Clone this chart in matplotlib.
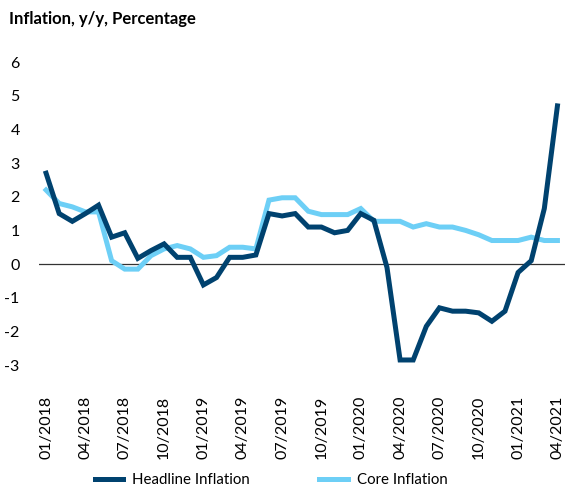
import numpy as np
import matplotlib
matplotlib.use('Agg')
import matplotlib.pyplot as plt

plt.rcParams['font.family'] = ['Lato', 'DejaVu Sans']

# data (monthly, 01/2018 .. 04/2021)
months = [f'{m:02d}/{y}' for y in range(2018, 2022) for m in range(1, 13)][:40]
headline = [2.7, 1.5, 1.27, 1.5, 1.75, 0.8, 0.93, 0.17, 0.4, 0.6,
            0.2, 0.2, -0.62, -0.4, 0.2, 0.2, 0.27, 1.5, 1.43, 1.5,
            1.1, 1.1, 0.93, 1.0, 1.5, 1.3, -0.1, -2.85, -2.85, -1.85,
            -1.3, -1.4, -1.4, -1.45, -1.7, -1.4, -0.25, 0.1, 1.65, 4.7]
core = [2.2, 1.8, 1.7, 1.55, 1.55, 0.1, -0.15, -0.15, 0.25, 0.45,
        0.55, 0.45, 0.2, 0.25, 0.5, 0.5, 0.45, 1.9, 1.97, 1.97,
        1.57, 1.47, 1.47, 1.47, 1.65, 1.27, 1.27, 1.27, 1.1, 1.2,
        1.1, 1.1, 1.0, 0.87, 0.7, 0.7, 0.7, 0.8, 0.7, 0.7]
yticks = [-3, -2, -1, 0, 1, 2, 3, 4, 5, 6]

c_head = '#00426f'
c_core = '#6dcff6'

x = np.arange(len(months))

fig = plt.figure(figsize=(5.67, 4.91), dpi=100)
ax = fig.add_axes([0.069, 0.236, 0.928, 0.658])

ax.axhline(0, color='#333333', lw=0.9, zorder=1)
ax.plot(x, headline, color=c_head, lw=3.6, label='Headline Inflation', zorder=3,
        solid_joinstyle='miter')
ax.plot(x, core, color=c_core, lw=3.6, label='Core Inflation', zorder=2,
        solid_joinstyle='miter')

ax.set_xlim(-0.53, 39.6)
ax.set_ylim(-3.3, 6.3)
ax.set_yticks(yticks)
ax.set_yticklabels([str(v) for v in yticks])
ax.set_xticks(x[::3])
ax.set_xticklabels(months[::3], rotation=90)
ax.tick_params(axis='both', length=0, labelsize=11.5, colors='black')
ax.tick_params(axis='x', pad=15)
ax.tick_params(axis='y', pad=14)
for s in ax.spines.values():
    s.set_visible(False)

fig.text(0.016, 0.962, 'Inflation, y/y, Percentage', fontsize=12, fontweight='bold',
         va='center', ha='left')

fig.legend(loc='center', bbox_to_anchor=(0.478, 0.022), ncol=2, frameon=False,
           fontsize=10.8, handlelength=1.9, columnspacing=4.6, handletextpad=0.6)

plt.savefig('out.png', dpi=100)
